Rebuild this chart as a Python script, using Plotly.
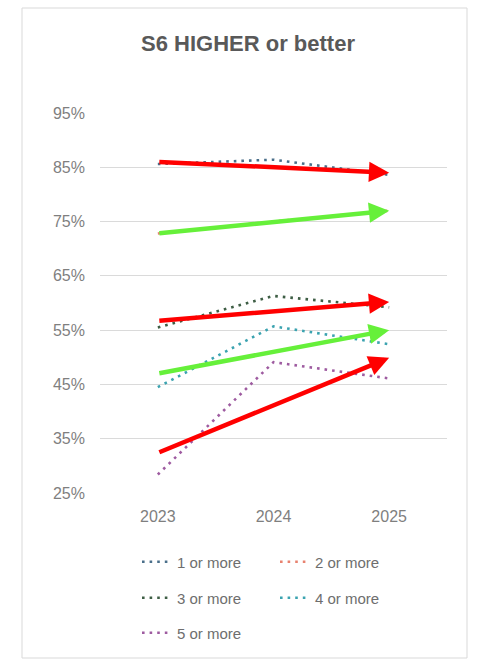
import plotly.graph_objects as go

years = ["2023", "2024", "2025"]
series_names = ["1 or more", "2 or more", "3 or more", "4 or more", "5 or more"]
one_plus = [85.6, 86.4, 83.6]
two_plus = [72.8, 75.0, 77.0]
three_plus = [55.5, 61.3, 59.2]
four_plus = [44.5, 55.7, 52.4]
five_plus = [28.4, 49.1, 46.1]
series_values = [one_plus, two_plus, three_plus, four_plus, five_plus]
series_colors = ["#4A6F8A", "#E8826F", "#3E5E45", "#3BA3B0", "#9E5BA0"]

# trend arrows (start at 2023, end at 2025)
trend_start = [86.0, 72.8, 56.7, 47.0, 32.4]
trend_end = [84.0, 77.0, 60.2, 55.0, 49.9]
trend_colors = ["#FF0000", "#66F03A", "#FF0000", "#66F03A", "#FF0000"]

W, H = 477, 661
ML, MR, MT, MB = 100, 30, 113, 168
PW, PH = W - ML - MR, H - MT - MB

def px_x(p):
    return (p - ML) / PW

def px_y(p):
    return (H - MB - p) / PH

legend_ids = ["legend", "legend2", "legend3", "legend4", "legend5"]
legend_pos = [(137, 562), (275, 562), (137, 598), (275, 598), (137, 633)]

fig = go.Figure()
for name, vals, col, lid in zip(series_names, series_values, series_colors, legend_ids):
    fig.add_trace(go.Scatter(
        x=years, y=vals, name=name, mode="lines",
        line=dict(color=col, width=2.6, dash="2.6px,5px"),
        legend=lid,
    ))

first_idx, last_idx = 0, len(years) - 1
for s, e, c in zip(trend_start, trend_end, trend_colors):
    fig.add_annotation(
        x=last_idx, y=e, ax=first_idx, ay=s,
        xref="x", yref="y", axref="x", ayref="y",
        text="", showarrow=True, arrowhead=2, arrowsize=0.9,
        arrowwidth=4.5, arrowcolor=c,
    )

layout_legends = {}
for lid, (lx, ly) in zip(legend_ids, legend_pos):
    layout_legends[lid] = dict(
        x=px_x(lx), y=px_y(ly), xanchor="left", yanchor="middle",
        orientation="h", bgcolor="rgba(0,0,0,0)",
        font=dict(family="Liberation Sans, Arial, sans-serif", size=15, color="#6E6E6E"),
    )

fig.update_layout(
    width=W, height=H,
    margin=dict(l=ML, r=MR, t=MT, b=MB),
    paper_bgcolor="white", plot_bgcolor="white",
    title=dict(
        text="<b>S6 HIGHER or better</b>",
        x=248 / W, xref="container", xanchor="center",
        y=1 - 43 / H, yref="container", yanchor="middle",
        font=dict(family="Liberation Sans, Arial, sans-serif", size=22, color="#595959"),
    ),
    xaxis=dict(
        type="category", categoryorder="array", categoryarray=years,
        range=[-0.5, len(years) - 0.5], autorange=False,
        showgrid=False, zeroline=False, showline=False,
        ticks="", ticklabelstandoff=12,
        tickfont=dict(family="Liberation Sans, Arial, sans-serif", size=16, color="#7F7F7F"),
    ),
    yaxis=dict(
        range=[25, 95], dtick=10, tick0=25, ticksuffix="%",
        showgrid=True, gridcolor="#DADADA", gridwidth=1,
        zeroline=False, showline=False, ticks="", ticklabelstandoff=14,
        tickfont=dict(family="Liberation Sans, Arial, sans-serif", size=16, color="#7F7F7F"),
    ),
    showlegend=True,
    **layout_legends,
)

fig.add_shape(
    type="rect", xref="paper", yref="paper",
    x0=px_x(22), x1=px_x(467), y0=px_y(658), y1=px_y(8),
    line=dict(color="#D9D9D9", width=1), fillcolor="rgba(0,0,0,0)", layer="below",
)

fig.write_html("out.html")
